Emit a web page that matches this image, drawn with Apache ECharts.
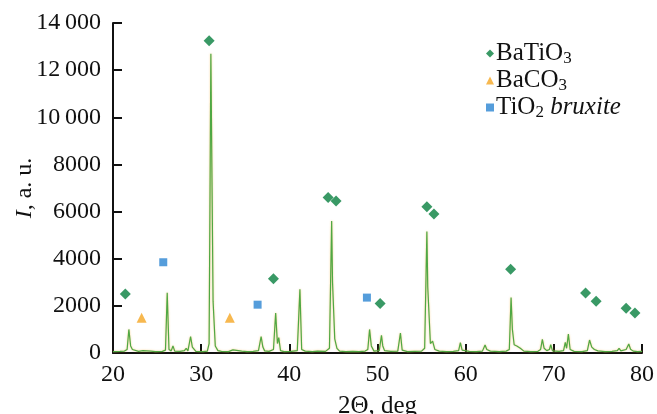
<!DOCTYPE html>
<html>
<head>
	<meta charset="utf-8">
	<title>XRD</title>
	<style type="text/css">
		html, body { margin: 0; padding: 0; background: #fff; }
		#main { width: 657px; height: 414px; }
	</style>
</head>
<body>
<div id="main"></div>
<script src="https://cdn.jsdelivr.net/npm/echarts@6/dist/echarts.min.js"></script>
<script>
    // 2Θ, deg
    var twoTheta = [
        20.0, 20.8, 21.3, 21.6, 21.8, 22.0, 22.2, 22.4, 22.9, 23.4, 23.6, 24.3, 24.8, 25.6, 25.95, 26.15, 26.35, 26.6, 26.8, 27.0,
        27.6, 28.1, 28.3, 28.5, 28.8, 29.0, 29.2, 29.4, 30.2, 30.7, 30.9, 31.1, 31.35, 31.6, 31.9, 32.3, 33.1, 33.6, 33.8, 34.6,
        35.2, 35.9, 36.5, 36.8, 37.0, 37.2, 37.7, 38.2, 38.45, 38.65, 38.8, 39.0, 39.4, 40.2, 40.9, 41.2, 41.4, 41.8, 42.6, 43.2,
        44.1, 44.55, 44.8, 44.9, 45.15, 45.4, 45.7, 46.4, 47.2, 47.9, 48.6, 48.9, 49.1, 49.3, 49.6, 50.2, 50.45, 50.6, 50.8, 51.5,
        52.3, 52.6, 52.8, 53.4, 54.2, 55.0, 55.35, 55.6, 55.7, 56.0, 56.25, 56.5, 57.0, 57.8, 58.6, 59.2, 59.4, 59.6, 60.4, 61.2,
        61.9, 62.2, 62.4, 62.6, 62.8, 63.8, 64.6, 64.95, 65.15, 65.3, 65.5, 65.8, 66.2, 66.6, 67.4, 68.2, 68.5, 68.7, 68.9, 69.2,
        69.5, 69.65, 69.85, 70.6, 71.1, 71.3, 71.45, 71.65, 71.85, 72.3, 73.2, 73.8, 74.05, 74.3, 74.6, 75.0, 75.8, 76.6, 77.2, 77.4,
        77.6, 78.2, 78.5, 78.7, 79.0, 79.5, 80.0
    ];
    // I, a. u.
    var intensity = [
        60, 70, 80, 150, 1000, 300, 150, 90, 70, 100, 60, 80, 60, 70, 120, 2550, 150, 90, 300, 80,
        70, 100, 200, 90, 700, 250, 200, 70, 60, 80, 400, 12700, 2200, 300, 100, 70, 60, 130, 60, 80,
        60, 70, 100, 700, 250, 90, 70, 150, 1700, 400, 650, 100, 60, 70, 100, 2700, 150, 80, 60, 80,
        70, 200, 5600, 3000, 600, 200, 80, 60, 70, 60, 80, 150, 1000, 300, 80, 100, 750, 300, 100, 70,
        80, 850, 120, 60, 70, 80, 200, 5150, 2800, 400, 500, 150, 80, 60, 70, 100, 440, 120, 70, 60,
        80, 340, 150, 220, 80, 60, 80, 150, 2350, 1000, 350, 300, 200, 80, 60, 70, 150, 580, 200, 100,
        150, 350, 90, 70, 100, 450, 200, 800, 150, 70, 60, 100, 550, 250, 150, 90, 60, 70, 100, 200,
        90, 150, 380, 160, 80, 60, 70
    ];

    // phase marks
    var batio3X = [21.4, 30.9, 38.2, 44.4, 45.3, 50.3, 55.6, 56.4, 65.1, 73.6, 74.8, 78.2, 79.2];
    var batio3Y = [2500, 13250, 3150, 6600, 6450, 2100, 6200, 5900, 3550, 2550, 2200, 1900, 1700];
    var baco3X = [23.25, 33.25];
    var baco3Y = [1500, 1500];
    var tio2X = [25.7, 36.4, 48.8];
    var tio2Y = [3850, 2050, 2350];

    var yTicks = [0, 2000, 4000, 6000, 8000, 10000, 12000, 14000];
    var xTicks = [20, 30, 40, 50, 60, 70, 80];

    function pairs(xs, ys) {
        var out = [];
        for (var i = 0; i < xs.length; i++) {
            out.push([xs[i], ys[i]]);
        }
        return out;
    }

    var serif = 'Liberation Serif';
    var myChart = echarts.init(document.getElementById('main'));

    var option = {
        animation: false,
        backgroundColor: '#fff',
        textStyle: { fontFamily: serif, color: '#111' },
        grid: { left: 113, right: 15, top: 23, bottom: 61, containLabel: false, outerBoundsMode: 'none' },
        legend: {
            orient: 'vertical',
            left: 481,
            top: 35,
            itemWidth: 8,
            itemHeight: 8,
            itemGap: 0,
            data: ['BaTiO3', 'BaCO3', 'TiO2'],
            formatter: function (name) {
                if (name === 'BaTiO3') return '{n|BaTiO}{s|3}';
                if (name === 'BaCO3') return '{n|BaCO}{s|3}';
                return '{n|TiO}{s|2}{i| bruxite}';
            },
            textStyle: {
                fontFamily: serif,
                color: '#111',
                padding: [0, 0, 0, -3],
                rich: {
                    n: { fontSize: 25, lineHeight: 24, fontFamily: serif, color: '#111' },
                    s: { fontSize: 17, lineHeight: 24, fontFamily: serif, color: '#111', padding: [10, 0, 0, 0] },
                    i: { fontSize: 25, lineHeight: 24, fontFamily: serif, fontStyle: 'italic', color: '#111' }
                }
            }
        },
        xAxis: {
            type: 'value',
            min: xTicks[0],
            max: xTicks[xTicks.length - 1],
            interval: 10,
            name: '2\u0398, deg',
            nameLocation: 'middle',
            nameGap: 41,
            nameMoveOverlap: false,
            nameTextStyle: { fontFamily: serif, fontSize: 25, color: '#111' },
            axisLine: { lineStyle: { color: '#111', width: 2 } },
            axisTick: { inside: true, length: 9, lineStyle: { color: '#111', width: 2 } },
            axisLabel: { fontFamily: serif, fontSize: 24, color: '#111', margin: 10 },
            splitLine: { show: false }
        },
        yAxis: {
            type: 'value',
            min: yTicks[0],
            max: yTicks[yTicks.length - 1],
            interval: 2000,
            name: '{i|I}, a. u.',
            nameLocation: 'middle',
            nameGap: 76,
            nameMoveOverlap: false,
            nameTextStyle: {
                fontFamily: serif, fontSize: 24, color: '#111',
                rich: { i: { fontFamily: serif, fontSize: 24, fontStyle: 'italic', color: '#111' } }
            },
            axisLine: { show: true, lineStyle: { color: '#111', width: 2 } },
            axisTick: { show: true, inside: true, length: 9, lineStyle: { color: '#111', width: 2 } },
            axisLabel: {
                fontFamily: serif, fontSize: 24, color: '#111', margin: 12,
                formatter: function (v) {
                    if (v >= 10000) {
                        var s = String(v);
                        return s.slice(0, s.length - 3) + '\u2009' + s.slice(s.length - 3);
                    }
                    return String(v);
                }
            },
            splitLine: { show: false }
        },
        series: [
            {
                name: 'pattern',
                type: 'line',
                data: pairs(twoTheta, intensity),
                symbol: 'none',
                smooth: false,
                z: 2,
                lineStyle: {
                    color: '#4fa844',
                    width: 1.2,
                    shadowColor: 'rgba(240,170,40,0.6)',
                    shadowBlur: 2
                }
            },
            {
                name: 'BaTiO3',
                type: 'scatter',
                data: pairs(batio3X, batio3Y),
                symbol: 'diamond',
                symbolSize: 11,
                z: 3,
                itemStyle: { color: '#07803f' }
            },
            {
                name: 'BaCO3',
                type: 'scatter',
                data: pairs(baco3X, baco3Y),
                symbol: 'triangle',
                symbolSize: 10,
                z: 3,
                itemStyle: { color: '#f5a623' }
            },
            {
                name: 'TiO2',
                type: 'scatter',
                data: pairs(tio2X, tio2Y),
                symbol: 'rect',
                symbolSize: 8,
                z: 3,
                itemStyle: { color: '#2a84d2' }
            }
        ]
    };

    myChart.setOption(option);
</script>
</body>
</html>
